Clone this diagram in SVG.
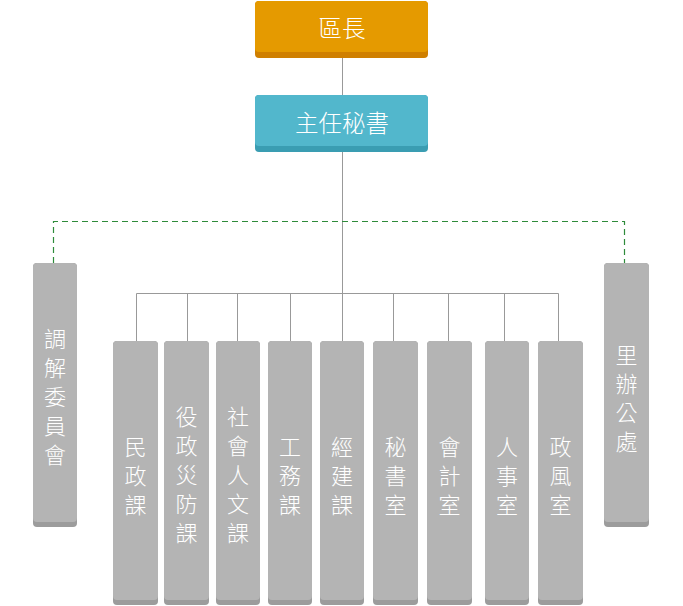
<svg xmlns="http://www.w3.org/2000/svg" width="683" height="606" viewBox="0 0 683 606">
<style>
.sh{fill:#9c9c9c}
.bx{fill:#b4b4b4}
.t{font-family:"Noto Sans CJK TC","Noto Sans CJK SC",sans-serif;font-size:22px;font-weight:300;fill:#ffffff;text-anchor:middle;dominant-baseline:central}
.tt{font-family:"Noto Sans CJK TC","Noto Sans CJK SC",sans-serif;font-size:23.5px;font-weight:300;fill:#ffffff;text-anchor:middle;dominant-baseline:central}
.ln{stroke:#999999;stroke-width:1;fill:none}
.dl{stroke:#2e8b3a;stroke-width:1.2;fill:none;stroke-dasharray:6 4}
</style>
<rect width="683" height="606" fill="#ffffff"/>
<g id="connectors">
<path class="ln" d="M342.5 57V95M342.5 151V341"/>
<path class="ln" d="M136.5 341V293.5H558.5V341M187.5 293.5V341M237.5 293.5V341M290.5 293.5V341M393.5 293.5V341M448.5 293.5V341M504.5 293.5V341"/>
<path class="dl" d="M53.5 263V221.5H624.5V263"/>
</g>
<g id="n-chief">
<rect x="255" y="1" width="173" height="57" rx="4" fill="#cf7f00"/>
<rect x="255" y="1" width="173" height="51" rx="4" fill="#e59a00"/>
<text class="tt" x="342" y="27">區長</text>
</g>
<g id="n-secretary">
<rect x="255" y="95" width="173" height="57" rx="4" fill="#3a9db2"/>
<rect x="255" y="95" width="173" height="51" rx="4" fill="#52b7cc"/>
<text class="tt" x="342" y="122">主任秘書</text>
</g>
<g id="n-mediation">
<rect class="sh" x="33" y="263" width="44" height="264" rx="4"/>
<rect class="bx" x="33" y="263" width="44" height="259" rx="4"/>
<text class="t" x="55"><tspan x="55" y="337">調</tspan><tspan x="55" y="366">解</tspan><tspan x="55" y="395">委</tspan><tspan x="55" y="424">員</tspan><tspan x="55" y="453">會</tspan></text>
</g>
<g id="n-village">
<rect class="sh" x="604" y="263" width="45" height="264" rx="4"/>
<rect class="bx" x="604" y="263" width="45" height="259" rx="4"/>
<text class="t" x="626.5"><tspan x="626.5" y="353">里</tspan><tspan x="626.5" y="382">辦</tspan><tspan x="626.5" y="411">公</tspan><tspan x="626.5" y="440">處</tspan></text>
</g>
<g id="n-civil">
<rect class="sh" x="113" y="341" width="45" height="264" rx="4"/>
<rect class="bx" x="113" y="341" width="45" height="259" rx="4"/>
<text class="t"><tspan x="135.5" y="445">民</tspan><tspan x="135.5" y="474">政</tspan><tspan x="135.5" y="503">課</tspan></text>
</g>
<g id="n-military">
<rect class="sh" x="164" y="341" width="45" height="264" rx="4"/>
<rect class="bx" x="164" y="341" width="45" height="259" rx="4"/>
<text class="t"><tspan x="186.5" y="415">役</tspan><tspan x="186.5" y="444">政</tspan><tspan x="186.5" y="473">災</tspan><tspan x="186.5" y="502">防</tspan><tspan x="186.5" y="531">課</tspan></text>
</g>
<g id="n-social">
<rect class="sh" x="216" y="341" width="44" height="264" rx="4"/>
<rect class="bx" x="216" y="341" width="44" height="259" rx="4"/>
<text class="t"><tspan x="238" y="415">社</tspan><tspan x="238" y="444">會</tspan><tspan x="238" y="473">人</tspan><tspan x="238" y="502">文</tspan><tspan x="238" y="531">課</tspan></text>
</g>
<g id="n-works">
<rect class="sh" x="268" y="341" width="44" height="264" rx="4"/>
<rect class="bx" x="268" y="341" width="44" height="259" rx="4"/>
<text class="t"><tspan x="290" y="445">工</tspan><tspan x="290" y="474">務</tspan><tspan x="290" y="503">課</tspan></text>
</g>
<g id="n-economic">
<rect class="sh" x="320" y="341" width="44" height="264" rx="4"/>
<rect class="bx" x="320" y="341" width="44" height="259" rx="4"/>
<text class="t"><tspan x="342" y="445">經</tspan><tspan x="342" y="474">建</tspan><tspan x="342" y="503">課</tspan></text>
</g>
<g id="n-secretariat">
<rect class="sh" x="373" y="341" width="45" height="264" rx="4"/>
<rect class="bx" x="373" y="341" width="45" height="259" rx="4"/>
<text class="t"><tspan x="395.5" y="445">秘</tspan><tspan x="395.5" y="474">書</tspan><tspan x="395.5" y="503">室</tspan></text>
</g>
<g id="n-accounting">
<rect class="sh" x="427" y="341" width="45" height="264" rx="4"/>
<rect class="bx" x="427" y="341" width="45" height="259" rx="4"/>
<text class="t"><tspan x="449.5" y="445">會</tspan><tspan x="449.5" y="474">計</tspan><tspan x="449.5" y="503">室</tspan></text>
</g>
<g id="n-personnel">
<rect class="sh" x="485" y="341" width="44" height="264" rx="4"/>
<rect class="bx" x="485" y="341" width="44" height="259" rx="4"/>
<text class="t"><tspan x="507" y="445">人</tspan><tspan x="507" y="474">事</tspan><tspan x="507" y="503">室</tspan></text>
</g>
<g id="n-ethics">
<rect class="sh" x="538" y="341" width="45" height="264" rx="4"/>
<rect class="bx" x="538" y="341" width="45" height="259" rx="4"/>
<text class="t"><tspan x="560.5" y="445">政</tspan><tspan x="560.5" y="474">風</tspan><tspan x="560.5" y="503">室</tspan></text>
</g>
</svg>
